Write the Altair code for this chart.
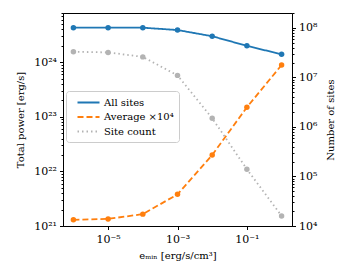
import altair as alt
import pandas as pd

# data
emin = [1e-6, 1e-5, 1e-4, 1e-3, 1e-2, 1e-1, 1.0]
all_sites = [4.3e24, 4.3e24, 4.3e24, 3.9e24, 3.0e24, 2.0e24, 1.4e24]
average_x1e4 = [1.3e21, 1.35e21, 1.65e21, 3.8e21, 2.0e22, 1.5e23, 8.9e23]
site_count = [3.3e7, 3.2e7, 2.6e7, 1.1e7, 1.5e6, 1.4e5, 1.6e4]

series_names = ["All sites", "Average ×10⁴", "Site count"]
series_colors = ["#1f77b4", "#ff7f0e", "#b3b3b3"]
series_dash = [[1, 0], [6, 3], [1.5, 3]]

rows = []
for name, vals in zip(series_names, [all_sites, average_x1e4, site_count]):
    for x, v in zip(emin, vals):
        rows.append({"emin": x, "series": name, "value": v})
df = pd.DataFrame(rows)

FONT = "DejaVu Serif"
sup = {"-": "⁻", "0": "⁰", "1": "¹", "2": "²", "3": "³", "4": "⁴",
       "5": "⁵", "6": "⁶", "7": "⁷", "8": "⁸", "9": "⁹"}


def sup_label(e):
    return "10" + "".join(sup[c] for c in str(e))


def log_ticks(lo, hi, top):
    vals = []
    for e in range(lo, hi + 1):
        for m in range(1, 10):
            v = m * 10.0 ** e
            if v <= top:
                vals.append(v)
    return vals


def label_expr(exps):
    expr = "''"
    for e in reversed(exps):
        expr = f"datum.value == {10.0 ** e!r} ? '{sup_label(e)}' : " + expr
    return expr


major_test = "abs(log(datum.value)/LN10 - round(log(datum.value)/LN10)) < 1e-6"
tick_size = {"condition": {"test": major_test, "value": 3.5}, "value": 2}

left_domain = [1e21, 8e24]
right_domain = [1e4, 2e8]

color = alt.Color(
    "series:N",
    scale=alt.Scale(domain=series_names, range=series_colors),
    legend=alt.Legend(
        title=None, orient="none", legendX=3, legendY=78,
        symbolType="M-2,0L2,0", symbolSize=121, symbolStrokeWidth=2,
        symbolOffset=11, labelOffset=9,
        labelFont=FONT, labelFontSize=10, labelColor="black",
        fillColor="white", strokeColor="#cccccc", cornerRadius=3,
        padding=5, rowPadding=2.5,
    ),
)
dash = alt.StrokeDash(
    "series:N",
    scale=alt.Scale(domain=series_names, range=series_dash),
    legend=None,
)

x_enc = alt.X(
    "emin:Q",
    scale=alt.Scale(type="log", domain=[10 ** -6.3, 10 ** 0.3], nice=False),
    axis=alt.Axis(
        values=[1e-5, 1e-3, 1e-1],
        labelExpr=label_expr([-5, -3, -1]),
        title="eₘᵢₙ [erg/s/cm³]",
        grid=False, tickSize=3.5, tickColor="black", domainColor="black",
        labelFont=FONT, labelFontSize=11, labelColor="black",
        titleFont=FONT, titleFontSize=10, titleFontWeight="normal",
        titleColor="black", labelPadding=4,
        titleY=29, titleBaseline="middle",
    ),
)

base = alt.Chart(df)

left = base.transform_filter(
    alt.FieldOneOfPredicate(field="series", oneOf=series_names[:2])
).mark_line(
    strokeWidth=1.8, point=alt.OverlayMarkDef(filled=True, size=30)
).encode(
    x=x_enc,
    y=alt.Y(
        "value:Q",
        scale=alt.Scale(type="log", domain=left_domain, nice=False),
        axis=alt.Axis(
            orient="left",
            values=log_ticks(21, 24, left_domain[1]),
            labelExpr=label_expr([21, 22, 23, 24]),
            tickSize=tick_size, tickColor="black", domainColor="black",
            grid=False, title="Total power [erg/s]",
            labelFont=FONT, labelFontSize=11, labelColor="black",
            titleFont=FONT, titleFontSize=10, titleFontWeight="normal",
            titleColor="black", labelPadding=3,
            titleX=-43, titleBaseline="middle",
        ),
    ),
    color=color,
    strokeDash=dash,
)

right = base.transform_filter(
    alt.FieldEqualPredicate(field="series", equal=series_names[2])
).mark_line(
    strokeWidth=1.8, point=alt.OverlayMarkDef(filled=True, size=30)
).encode(
    x=x_enc,
    y=alt.Y(
        "value:Q",
        scale=alt.Scale(type="log", domain=right_domain, nice=False),
        axis=alt.Axis(
            orient="right",
            values=log_ticks(4, 8, right_domain[1]),
            labelExpr=label_expr([4, 5, 6, 7, 8]),
            tickSize=tick_size, tickColor="black", domainColor="black",
            grid=False, title="Number of sites", titleAngle=270,
            labelFont=FONT, labelFontSize=11, labelColor="black",
            titleFont=FONT, titleFontSize=10, titleFontWeight="normal",
            titleColor="black", labelPadding=3,
            titleX=38, titleBaseline="middle",
        ),
    ),
    color=color,
    strokeDash=dash,
)

chart = alt.layer(left, right).resolve_scale(
    y="independent"
).properties(
    width=229, height=213,
    autosize=alt.AutoSizeParams(type="none"),
    padding={"left": 55, "top": 5, "right": 50, "bottom": 46},
).configure_view(
    stroke="black", strokeWidth=1
)

chart.save("out.html", embed_options={"renderer": "svg", "actions": False})
